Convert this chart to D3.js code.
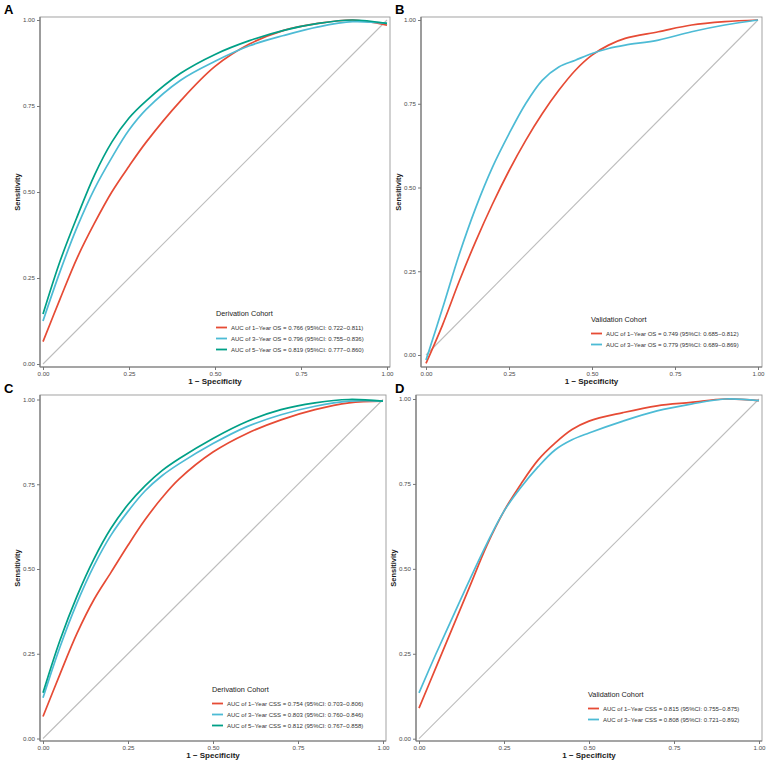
<!DOCTYPE html>
<html>
<head>
<meta charset="utf-8">
<script src="https://cdn.jsdelivr.net/npm/d3@7"></script>
<style>
  body { margin: 0; background: #fff; }
  svg { font-family: "Liberation Sans", Arial, sans-serif; }
</style>
</head>
<body>
<div class="chart"></div>
<script>
// ROC curve points (1 - specificity, sensitivity)
var fprA = [0, 0.05, 0.1, 0.15, 0.2, 0.25, 0.3, 0.4, 0.5, 0.6, 0.7, 0.8, 0.9, 1.0];
var tprA1 = [0.065, 0.19, 0.31, 0.41, 0.50, 0.575, 0.645, 0.765, 0.865, 0.93, 0.97, 0.99, 1.0, 0.985];
var tprA3 = [0.125, 0.27, 0.40, 0.51, 0.60, 0.68, 0.74, 0.825, 0.88, 0.925, 0.955, 0.98, 0.995, 0.99];
var tprA5 = [0.145, 0.30, 0.43, 0.55, 0.645, 0.715, 0.765, 0.845, 0.90, 0.94, 0.97, 0.99, 1.0, 0.99];

var fprB = [0, 0.05, 0.1, 0.15, 0.2, 0.25, 0.3, 0.35, 0.4, 0.45, 0.5, 0.55, 0.6, 0.7, 0.8, 0.9, 1.0];
var tprB1 = [-0.025, 0.09, 0.22, 0.34, 0.45, 0.55, 0.64, 0.72, 0.79, 0.85, 0.895, 0.925, 0.945, 0.965, 0.985, 0.995, 1.0];
var tprB3 = [-0.015, 0.14, 0.30, 0.44, 0.56, 0.66, 0.75, 0.82, 0.86, 0.88, 0.90, 0.915, 0.925, 0.94, 0.965, 0.985, 1.0];

var fprC = [0, 0.05, 0.1, 0.15, 0.2, 0.25, 0.3, 0.35, 0.4, 0.5, 0.6, 0.7, 0.8, 0.9, 1.0];
var tprC1 = [0.065, 0.19, 0.31, 0.41, 0.49, 0.57, 0.645, 0.71, 0.765, 0.845, 0.90, 0.94, 0.97, 0.99, 0.995];
var tprC3 = [0.12, 0.27, 0.40, 0.51, 0.60, 0.67, 0.73, 0.775, 0.81, 0.87, 0.92, 0.955, 0.98, 0.995, 0.995];
var tprC5 = [0.135, 0.29, 0.42, 0.53, 0.62, 0.69, 0.745, 0.79, 0.825, 0.885, 0.935, 0.97, 0.99, 1.0, 0.995];

var fprD = [0, 0.05, 0.1, 0.15, 0.2, 0.25, 0.3, 0.35, 0.4, 0.45, 0.5, 0.6, 0.7, 0.8, 0.9, 1.0];
var tprD1 = [0.09, 0.21, 0.33, 0.45, 0.57, 0.67, 0.75, 0.82, 0.87, 0.91, 0.935, 0.96, 0.98, 0.99, 1.0, 0.995];
var tprD3 = [0.135, 0.25, 0.36, 0.47, 0.575, 0.67, 0.74, 0.80, 0.85, 0.88, 0.90, 0.935, 0.965, 0.985, 1.0, 0.995];

var legendA = ["AUC of 1\u2212Year OS = 0.766 (95%CI: 0.722\u22120.811)",
               "AUC of 3\u2212Year OS = 0.796 (95%CI: 0.755\u22120.836)",
               "AUC of 5\u2212Year OS = 0.819 (95%CI: 0.777\u22120.860)"];
var legendB = ["AUC of 1\u2212Year OS = 0.749 (95%CI: 0.685\u22120.812)",
               "AUC of 3\u2212Year OS = 0.779 (95%CI: 0.689\u22120.869)"];
var legendC = ["AUC of 1\u2212Year CSS = 0.754 (95%CI: 0.703\u22120.806)",
               "AUC of 3\u2212Year CSS = 0.803 (95%CI: 0.760\u22120.846)",
               "AUC of 5\u2212Year CSS = 0.812 (95%CI: 0.767\u22120.858)"];
var legendD = ["AUC of 1\u2212Year CSS = 0.815 (95%CI: 0.755\u22120.875)",
               "AUC of 3\u2212Year CSS = 0.808 (95%CI: 0.721\u22120.892)"];

var ticks = [0, 0.25, 0.5, 0.75, 1.0];
var colors = ["#E64B35", "#4DBBD5", "#00A087"];

var width = 767, height = 762;
var svg = d3.select(".chart").append("svg").attr("width", width).attr("height", height);

var panels = [
  {tag: "A", tagX: 4, tagY: 14, frame: [40, 17, 390, 367], xr: [43, 387], yr: [364, 20],
   fpr: fprA, series: [tprA1, tprA3, tprA5], title: "Derivation Cohort", legend: legendA, lx: 216, ly: 313},
  {tag: "B", tagX: 395, tagY: 14, frame: [421, 17, 762, 367], xr: [426, 758], yr: [355, 20],
   fpr: fprB, series: [tprB1, tprB3], title: "Validation Cohort", legend: legendB, lx: 591, ly: 319},
  {tag: "C", tagX: 4, tagY: 393, frame: [40, 395, 386, 741], xr: [43, 383], yr: [738.5, 399.5],
   fpr: fprC, series: [tprC1, tprC3, tprC5], title: "Derivation Cohort", legend: legendC, lx: 212, ly: 689},
  {tag: "D", tagX: 395, tagY: 393, frame: [416, 395, 762, 741], xr: [419, 759], yr: [738.7, 399],
   fpr: fprD, series: [tprD1, tprD3], title: "Validation Cohort", legend: legendD, lx: 588, ly: 694}
];

panels.forEach(function (p) {
  var x = d3.scaleLinear().domain([0, 1]).range(p.xr),
      y = d3.scaleLinear().domain([0, 1]).range(p.yr);
  var f = p.frame;
  var g = svg.append("g");

  // panel tag
  g.append("text").attr("x", p.tagX).attr("y", p.tagY).text(p.tag)
    .attr("font-size", 13).attr("font-weight", "bold").attr("fill", "#000");

  // frame
  g.append("rect").attr("x", f[0]).attr("y", f[1]).attr("width", f[2] - f[0]).attr("height", f[3] - f[1])
    .attr("fill", "none").attr("stroke", "#999").attr("stroke-width", 0.9);

  // reference diagonal
  g.append("line").attr("x1", x(0)).attr("y1", y(0)).attr("x2", x(1)).attr("y2", y(1))
    .attr("stroke", "#bdbdbd").attr("stroke-width", 1.1);

  // axes
  var xa = g.append("g").attr("transform", "translate(0," + f[3] + ")")
    .call(d3.axisBottom(x).tickValues(ticks).tickFormat(d3.format(".2f")).tickSize(3).tickPadding(2));
  var ya = g.append("g").attr("transform", "translate(" + f[0] + ",0)")
    .call(d3.axisLeft(y).tickValues(ticks).tickFormat(d3.format(".2f")).tickSize(3).tickPadding(2));
  [xa, ya].forEach(function (a) {
    a.select(".domain").remove();
    a.selectAll("line").attr("stroke", "#555").attr("stroke-width", 0.8);
    a.selectAll("text").attr("fill", "#4d4d4d").attr("font-size", 6.2).attr("font-family", null);
  });
  g.append("line").attr("x1", f[0]).attr("y1", f[1]).attr("x2", f[0]).attr("y2", f[3])
    .attr("stroke", "#7a7a7a").attr("stroke-width", 1.2);
  g.append("line").attr("x1", f[0]).attr("y1", f[3]).attr("x2", f[2]).attr("y2", f[3])
    .attr("stroke", "#7a7a7a").attr("stroke-width", 1.2);

  // axis titles
  g.append("text").attr("x", (f[0] + f[2]) / 2).attr("y", f[3] + 17).attr("text-anchor", "middle")
    .attr("font-size", 8).attr("font-weight", "bold").attr("fill", "#1a1a1a").text("1 \u2212 Specificity");
  g.append("text").attr("transform", "translate(" + (f[0] - 20) + "," + ((f[1] + f[3]) / 2) + ") rotate(-90)")
    .attr("text-anchor", "middle").attr("font-size", 7.5).attr("font-weight", "bold").attr("fill", "#1a1a1a")
    .text("Sensitivity");

  // ROC curves
  var line = d3.line().curve(d3.curveCatmullRom.alpha(0.5))
    .x(function (d) { return x(d[0]); }).y(function (d) { return y(d[1]); });
  p.series.forEach(function (s, i) {
    var pts = p.fpr.map(function (v, k) { return [v, s[k]]; });
    g.append("path").datum(pts).attr("d", line).attr("fill", "none")
      .attr("stroke", colors[i]).attr("stroke-width", 1.7);
  });

  // legend
  var lg = g.append("g").attr("transform", "translate(" + p.lx + "," + p.ly + ")");
  lg.append("text").attr("x", 0).attr("y", 3).text(p.title)
    .attr("font-size", 7.3).attr("fill", "#1a1a1a");
  p.legend.forEach(function (t, i) {
    var yy = 14.5 + i * 11;
    lg.append("line").attr("x1", 0).attr("x2", 11).attr("y1", yy).attr("y2", yy)
      .attr("stroke", colors[i]).attr("stroke-width", 1.8);
    lg.append("text").attr("x", 15).attr("y", yy + 2.2).text(t)
      .attr("font-size", 6.0).attr("fill", "#333");
  });
});
</script>
</body>
</html>
